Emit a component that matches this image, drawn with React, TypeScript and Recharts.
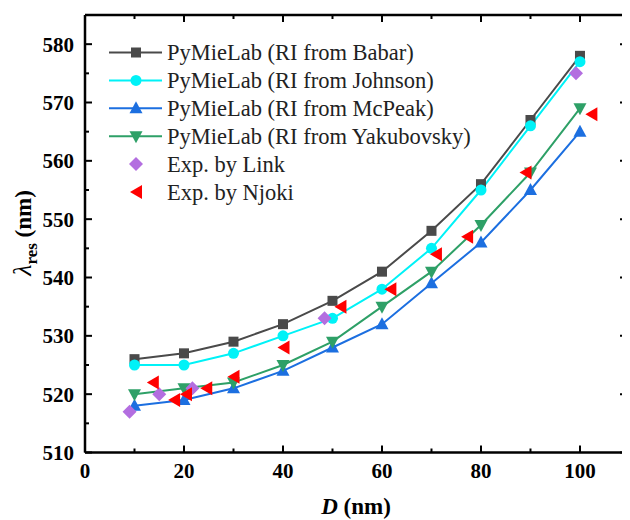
import React from 'react';
import { ComposedChart, Line, Scatter, XAxis, YAxis } from 'recharts';

const D = [10, 20, 30, 40, 50, 60, 70, 80, 90, 100];
const babar = [526, 527, 529, 532, 536, 541, 548, 556, 567, 578];
const johnson = [525, 525, 527, 530, 533, 538, 545, 555, 566, 577];
const mcpeak = [518, 519, 521, 524, 528, 532, 539, 546, 555, 565];
const yakubovsky = [520, 521, 522, 525, 529, 535, 541, 549, 558, 569];
const linkD = [9, 15, 21.7, 48.4, 99.2];
const linkL = [517, 520, 521, 533, 575];
const njokiD = [13.7, 18, 20.4, 24.5, 30, 40.1, 51.6, 61.7, 70.9, 77.2, 89, 102.3];
const njokiL = [522, 519, 520, 521, 523, 528, 535, 538, 544, 547, 558, 568];
const xTicks = [0, 10, 20, 30, 40, 50, 60, 70, 80, 90, 100];
const yTicks = [510, 515, 520, 525, 530, 535, 540, 545, 550, 555, 560, 565, 570, 575, 580];
const seriesNames = [
  'PyMieLab (RI from Babar)',
  'PyMieLab (RI from Johnson)',
  'PyMieLab (RI from McPeak)',
  'PyMieLab (RI from Yakubovsky)',
  'Exp. by Link',
  'Exp. by Njoki',
];

const FONT = '"Liberation Serif", "Times New Roman", serif';
const C_BABAR = '#4a4a4a';
const C_JOHNSON = '#00f2f7';
const C_MCPEAK = '#1c6fe0';
const C_YAKU = '#2ea067';
const C_LINK = '#b36ee0';
const C_NJOKI = '#ff0000';

const zip = (xs: number[], ys: number[]) => xs.map((x, i) => ({ x, y: ys[i] }));
const babarData = zip(D, babar);
const johnsonData = zip(D, johnson);
const mcpeakData = zip(D, mcpeak);
const yakuData = zip(D, yakubovsky);
const linkData = zip(linkD, linkL);
const njokiData = zip(njokiD, njokiL);

type S = { cx: number; cy: number };
const Square = ({ cx, cy }: S) => <rect x={cx - 5} y={cy - 5} width={10} height={10} fill={C_BABAR} />;
const Dot = ({ cx, cy }: S) => <circle cx={cx} cy={cy} r={5.5} fill={C_JOHNSON} />;
const TriUp = ({ cx, cy }: S) => (
  <polygon points={`${cx},${cy - 7} ${cx - 6.5},${cy + 5} ${cx + 6.5},${cy + 5}`} fill={C_MCPEAK} />
);
const TriDown = ({ cx, cy }: S) => (
  <polygon points={`${cx - 6.5},${cy - 5} ${cx + 6.5},${cy - 5} ${cx},${cy + 7}`} fill={C_YAKU} />
);
const Diamond = ({ cx, cy }: S) => (
  <polygon points={`${cx},${cy - 7} ${cx + 7},${cy} ${cx},${cy + 7} ${cx - 7},${cy}`} fill={C_LINK} />
);
const TriLeft = ({ cx, cy }: S) => (
  <polygon points={`${cx - 6},${cy} ${cx + 6},${cy - 7} ${cx + 6},${cy + 7}`} fill={C_NJOKI} />
);

const mkDot = (Comp: any) => (p: any) => <Comp key={`d${p.index}`} cx={p.cx} cy={p.cy} />;

const BottomTick = (p: any) => {
  const { x, y, payload } = p;
  const v = payload.value;
  const major = v % 20 === 0;
  return (
    <g>
      <line x1={x} x2={x} y1={y} y2={y - (major ? 7 : 4)} stroke="#000" strokeWidth={2} />
      {major && (
        <text x={x} y={y + 25.5} textAnchor="middle" fontFamily={FONT} fontWeight="bold" fontSize={21} fill="#000">
          {v}
        </text>
      )}
    </g>
  );
};
const TopTick = (p: any) => {
  const { x, y, payload } = p;
  const major = payload.value % 20 === 0;
  return <line x1={x} x2={x} y1={y} y2={y + (major ? 7 : 4)} stroke="#000" strokeWidth={2} />;
};
const LeftTick = (p: any) => {
  const { x, y, payload } = p;
  const v = payload.value;
  const major = v % 10 === 0;
  return (
    <g>
      <line x1={x} x2={x + (major ? 7 : 4)} y1={y} y2={y} stroke="#000" strokeWidth={2} />
      {major && (
        <text x={x - 11} y={y} dy="0.35em" textAnchor="end" fontFamily={FONT} fontWeight="bold" fontSize={21} fill="#000">
          {v}
        </text>
      )}
    </g>
  );
};
const RightTick = (p: any) => {
  const { x, y, payload } = p;
  const major = payload.value % 10 === 0;
  return <line x1={x} x2={x - (major ? 7 : 4)} y1={y} y2={y} stroke="#000" strokeWidth={2} />;
};

const legendItems = [
  { color: C_BABAR, Marker: Square, line: true },
  { color: C_JOHNSON, Marker: Dot, line: true },
  { color: C_MCPEAK, Marker: TriUp, line: true },
  { color: C_YAKU, Marker: TriDown, line: true },
  { color: C_LINK, Marker: Diamond, line: false },
  { color: C_NJOKI, Marker: TriLeft, line: false },
];

const LegendBox = () => (
  <g>
    {legendItems.map((it, i) => {
      const cy = 44.5 + i * 27.9;
      const M = it.Marker;
      return (
        <g key={i}>
          {it.line && <line x1={101} x2={154} y1={cy} y2={cy} stroke={it.color} strokeWidth={2} />}
          <M cx={128} cy={cy} />
          <text x={159} y={cy} dy="0.35em" fontFamily={FONT} fontSize={22.5} fill="#222">
            {seriesNames[i]}
          </text>
        </g>
      );
    })}
  </g>
);

const AxisTitles = () => (
  <g>
    <text x={348} y={506} textAnchor="middle" fontFamily={FONT} fontSize={23} fontWeight="bold" fill="#000">
      <tspan fontStyle="italic">D</tspan>
      <tspan> (nm)</tspan>
    </text>
    <text
      transform="translate(23, 225) rotate(-90)"
      x={0}
      y={0}
      textAnchor="middle"
      fontFamily={FONT}
      fontSize={23}
      fill="#000"
    >
      <tspan fontStyle="italic" fontSize={26}>λ</tspan>
      <tspan fontWeight="bold" fontSize={17} dy={6}>res</tspan>
      <tspan fontWeight="bold" dy={-6}>{'\u00a0(nm)'}</tspan>
    </text>
  </g>
);

export default function App() {
  return (
    <ComposedChart width={622} height={512} margin={{ top: 6, right: 2, bottom: 0, left: 0 }}>
      <XAxis
        xAxisId="b"
        type="number"
        dataKey="x"
        domain={[0, 109.5]}
        allowDataOverflow
        ticks={xTicks}
        interval={0}
        height={67.5}
        tickSize={0}
        tickMargin={0}
        tickLine={false}
        tick={BottomTick}
        axisLine={{ stroke: '#000', strokeWidth: 2.5 }}
      />
      <XAxis
        xAxisId="t"
        orientation="top"
        type="number"
        dataKey="x"
        domain={[0, 109.5]}
        allowDataOverflow
        ticks={xTicks}
        interval={0}
        height={1}
        tickSize={0}
        tickMargin={0}
        tickLine={false}
        tick={TopTick}
        axisLine={{ stroke: '#000', strokeWidth: 2.5 }}
      />
      <YAxis
        yAxisId="l"
        type="number"
        domain={[510, 585]}
        allowDataOverflow
        ticks={yTicks}
        interval={0}
        width={77}
        tickSize={0}
        tickMargin={0}
        tickLine={false}
        tick={LeftTick}
        axisLine={{ stroke: '#000', strokeWidth: 2.5 }}
      />
      <YAxis
        yAxisId="r"
        orientation="right"
        type="number"
        domain={[510, 585]}
        allowDataOverflow
        ticks={yTicks}
        interval={0}
        width={1}
        tickSize={0}
        tickMargin={0}
        tickLine={false}
        tick={RightTick}
        axisLine={{ stroke: '#000', strokeWidth: 2.5 }}
      />
      <Line xAxisId="t" yAxisId="r" data={babarData} dataKey="y" stroke="none" dot={false} activeDot={false} legendType="none" isAnimationActive={false} />
      <Line xAxisId="b" yAxisId="l" data={babarData} dataKey="y" stroke={C_BABAR} strokeWidth={2} dot={mkDot(Square)} activeDot={false} isAnimationActive={false} />
      <Line xAxisId="b" yAxisId="l" data={johnsonData} dataKey="y" stroke={C_JOHNSON} strokeWidth={2} dot={mkDot(Dot)} activeDot={false} isAnimationActive={false} />
      <Line xAxisId="b" yAxisId="l" data={mcpeakData} dataKey="y" stroke={C_MCPEAK} strokeWidth={2} dot={mkDot(TriUp)} activeDot={false} isAnimationActive={false} />
      <Line xAxisId="b" yAxisId="l" data={yakuData} dataKey="y" stroke={C_YAKU} strokeWidth={2} dot={mkDot(TriDown)} activeDot={false} isAnimationActive={false} />
      <Scatter xAxisId="b" yAxisId="l" data={linkData} dataKey="y" shape={(p: any) => <Diamond cx={p.cx} cy={p.cy} />} isAnimationActive={false} />
      <Scatter xAxisId="b" yAxisId="l" data={njokiData} dataKey="y" shape={(p: any) => <TriLeft cx={p.cx} cy={p.cy} />} isAnimationActive={false} />
      <LegendBox />
      <AxisTitles />
    </ComposedChart>
  );
}
